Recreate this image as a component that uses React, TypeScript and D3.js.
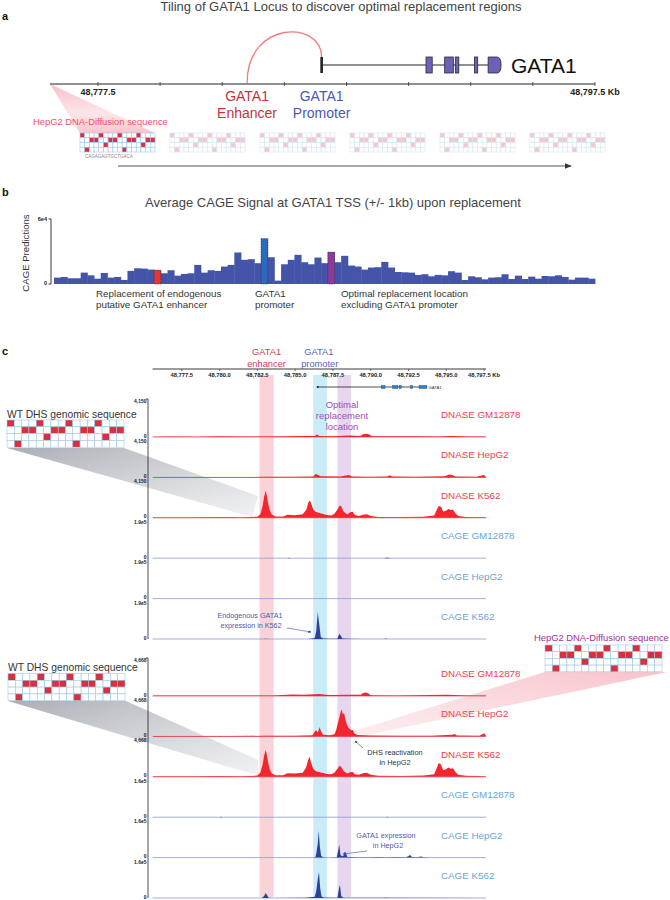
import React from "react";
import * as d3 from "d3";

const FONT = "'Liberation Sans', Arial, Helvetica, sans-serif";

// ---------------- Panel a / c genomic data ----------------
const locusTicks = [48777.5, 48780, 48782.5, 48785, 48787.5, 48790, 48792.5, 48795, 48797.5];
const locusTickLabelsA = ["48,777.5", "", "", "", "", "", "", "", "48,797.5 Kb"];
const locusTickLabelsC = ["48,777.5", "48,780.0", "48,782.5", "48,785.0", "48,787.5", "48,790.0", "48,792.5", "48,795.0", "48,797.5 Kb"];
const locusStart = 48775.57;
const locusEndA = 48797.5;
const locusEndC = 48797.63;
const geneTSS = 48786.5;
const exonStarts = [48790.7, 48791.45, 48791.88, 48792.65, 48793.2];
const exonEnds = [48790.95, 48791.8, 48792.02, 48792.78, 48793.72];
const enhancerKb = 48783.5;
const tileIndex = [0, 1, 2, 3, 4, 5];
const seqWT = "ATCCAGCCATCCAGCC";
const seqDiffusion = "ATCCAGCCATCCAGCC";
const tileSeqText = "CAGAGAGTGCTGACA";

// ---------------- Panel b data (CAGE predictions, x1e4) ----------------
const cageAfterReplacement = [
  0.59, 0.65, 0.53, 0.53, 1.05, 0.8, 0.49, 1.02, 0.59, 0.65,
  0.37, 1.21, 1.45, 1.42, 1.33, 1.27, 0.99, 1.27, 0.77, 0.93,
  0.99, 1.76, 1.05, 1.27, 1.21, 1.61, 1.76, 2.91, 2.23, 2.29,
  1.92, 4.18, 2.47, 0.31, 1.82, 2.23, 2.69, 2.01, 1.82, 2.44,
  1.92, 2.94, 2.01, 2.6, 1.7, 1.61, 1.33, 1.52, 1.55, 2.04,
  1.52, 1.11, 1.08, 1.05, 0.84, 0.9, 0.71, 0.84, 0.8, 1.18,
  1.05, 0.37, 0.71, 0.62, 0.43, 0.59, 0.62, 0.9, 0.46, 0.77,
  0.46, 0.68, 0.49, 0.74, 0.71, 0.8, 0.65, 0.4, 0.59, 0.59,
  0.49,
];
const highlightIdx = [15, 31, 41];
const highlightColors = ["#e8343c", "#2a6bc2", "#8e3a9c"];
const cageMax = 6; // 6e4

// ---------------- Panel c regions ----------------
const regionStarts = [48782.64, 48786.2, 48787.8];
const regionEnds = [48783.58, 48787.1, 48788.7];
const regionColors = ["#f9d3d7", "#c9ecf8", "#e6d6ee"];

// ---------------- Panel c tracks: WT ----------------
const wtDnaseGM12878 = [[48775.6,40],[48777.0,60],[48778.5,40],[48780.0,70],[48781.5,50],[48783.0,60],[48784.5,90],[48785.5,110],[48786.3,120],[48786.45,260],[48786.6,110],[48787.5,90],[48788.6,160],[48789.3,120],[48789.5,300],[48789.7,360],[48789.9,280],[48790.1,90],[48791.5,70],[48793.0,90],[48794.5,60],[48795.3,110],[48796.5,60],[48797.6,50]];
const wtDnaseHepG2 = [[48775.6,40],[48778.0,50],[48780.5,40],[48783.0,60],[48785.0,70],[48786.2,110],[48786.35,380],[48786.5,300],[48786.7,120],[48788.0,90],[48788.55,250],[48788.75,90],[48790.0,70],[48791.1,110],[48791.25,230],[48791.45,90],[48793.0,60],[48794.9,120],[48795.2,330],[48795.4,260],[48795.6,100],[48797.0,60],[48797.5,260],[48797.63,40]];
const wtDnaseK562 = [[48775.6,50],[48777.0,70],[48778.5,50],[48780.0,80],[48781.5,70],[48782.5,120],[48782.7,400],[48782.85,1300],[48782.95,2300],[48783.05,2950],[48783.12,2500],[48783.2,1700],[48783.3,900],[48783.45,350],[48783.7,150],[48784.2,150],[48784.5,330],[48785.0,280],[48785.5,380],[48785.75,900],[48785.88,1700],[48785.98,1900],[48786.1,1400],[48786.2,900],[48786.35,650],[48786.55,550],[48786.8,450],[48787.1,300],[48787.4,250],[48787.6,450],[48787.8,900],[48787.95,1350],[48788.05,1250],[48788.2,700],[48788.45,350],[48788.65,600],[48788.8,650],[48788.95,300],[48789.2,200],[48789.5,320],[48789.75,380],[48790.0,200],[48790.5,100],[48792.0,80],[48793.5,120],[48794.2,250],[48794.35,800],[48794.5,1300],[48794.65,1200],[48794.8,700],[48794.95,750],[48795.15,950],[48795.3,850],[48795.45,900],[48795.6,500],[48795.8,200],[48796.3,100],[48797.63,60]];
const wtCageGM12878 = [[48775.6,300],[48784.5,300],[48784.6,2500],[48784.7,300],[48790.9,300],[48791.0,2500],[48791.15,2000],[48791.3,300],[48797.63,300]];
const wtCageHepG2 = [[48775.6,300],[48786.5,400],[48797.63,300]];
const wtCageK562 = [[48775.6,300],[48782.9,300],[48783.05,1800],[48783.2,300],[48785.8,600],[48786.1,2500],[48786.3,5000],[48786.4,40000],[48786.5,135000],[48786.6,70000],[48786.7,10000],[48786.85,3000],[48787.3,800],[48787.8,1200],[48787.92,25000],[48788.02,18000],[48788.12,2000],[48788.5,800],[48789.5,500],[48790.9,500],[48791.0,2500],[48791.1,500],[48797.63,300]];

// ---------------- Panel c tracks: after replacement ----------------
const repDnaseGM12878 = [[48775.6,50],[48777.5,60],[48779.5,50],[48781.5,70],[48783.5,60],[48784.8,180],[48785.5,150],[48786.3,200],[48786.6,250],[48787.2,120],[48788.5,150],[48789.35,150],[48789.5,380],[48789.7,420],[48789.85,300],[48790.0,100],[48791.5,70],[48793.0,100],[48795.0,150],[48796.5,70],[48797.63,60]];
const repDnaseHepG2 = [[48775.6,50],[48778.0,60],[48780.5,50],[48783.0,70],[48785.0,80],[48786.15,150],[48786.3,600],[48786.4,750],[48786.5,450],[48786.62,1150],[48786.72,600],[48786.85,200],[48787.3,150],[48787.6,250],[48787.72,800],[48787.82,1600],[48787.92,2300],[48788.0,2900],[48788.08,3350],[48788.16,2700],[48788.24,2900],[48788.32,2100],[48788.42,1500],[48788.52,1100],[48788.62,900],[48788.72,750],[48788.82,800],[48788.92,400],[48789.1,180],[48790.0,100],[48792.0,80],[48794.0,90],[48795.4,200],[48795.55,280],[48795.7,120],[48797.2,80],[48797.52,380],[48797.63,60]];
const repDnaseK562 = [[48775.6,60],[48777.0,80],[48778.5,60],[48780.0,90],[48781.5,80],[48782.5,150],[48782.7,500],[48782.85,1500],[48782.95,2600],[48783.05,3300],[48783.12,2800],[48783.2,1900],[48783.3,1000],[48783.45,400],[48783.7,180],[48784.2,200],[48784.5,450],[48785.0,400],[48785.5,500],[48785.72,1100],[48785.85,2000],[48785.95,2450],[48786.05,1800],[48786.2,1000],[48786.35,700],[48786.55,600],[48786.8,500],[48787.1,350],[48787.4,300],[48787.6,500],[48787.8,1000],[48787.95,1350],[48788.05,1200],[48788.2,700],[48788.45,400],[48788.65,550],[48788.8,600],[48788.95,300],[48789.2,250],[48789.5,450],[48789.75,500],[48790.0,250],[48790.5,120],[48792.0,100],[48793.5,150],[48794.2,300],[48794.35,1000],[48794.5,1700],[48794.65,1500],[48794.8,800],[48794.95,900],[48795.15,1150],[48795.3,1000],[48795.45,1050],[48795.6,600],[48795.8,250],[48796.3,120],[48797.63,70]];
const repCageGM12878 = [[48775.6,300],[48780.0,300],[48780.1,1500],[48780.2,300],[48791.0,300],[48791.1,1500],[48791.2,300],[48797.63,300]];
const repCageHepG2 = [[48775.6,200],[48786.2,300],[48786.35,3000],[48786.42,25000],[48786.5,60000],[48786.56,113000],[48786.64,45000],[48786.72,8000],[48786.85,1500],[48787.3,800],[48787.75,2000],[48787.85,30000],[48787.92,55000],[48788.0,12000],[48788.1,6000],[48788.2,8000],[48788.28,25000],[48788.36,20000],[48788.45,3000],[48788.7,2500],[48789.2,1500],[48790.0,1500],[48790.5,3000],[48791.0,1500],[48791.8,2500],[48792.3,1800],[48792.5,6000],[48792.6,12000],[48792.7,4000],[48793.0,1500],[48793.35,5000],[48793.5,1200],[48794.0,800],[48797.63,200]];
const repCageK562 = [[48775.6,200],[48782.8,300],[48782.95,8000],[48783.05,21000],[48783.15,12000],[48783.25,1500],[48783.5,300],[48785.7,1000],[48786.0,3500],[48786.3,5000],[48786.4,30000],[48786.5,80000],[48786.58,109000],[48786.66,40000],[48786.75,6000],[48786.9,2000],[48787.4,800],[48787.8,1500],[48787.9,40000],[48787.97,55000],[48788.05,8000],[48788.2,1500],[48788.6,800],[48790.9,600],[48791.0,2500],[48791.1,600],[48797.63,200]];

const trackNames = ["DNASE GM12878", "DNASE HepG2", "DNASE K562", "CAGE GM12878", "CAGE HepG2", "CAGE K562"];
const trackKinds = ["dnase", "dnase", "dnase", "cage", "cage", "cage"];
const wtMaxLabels = ["4,150", "4,150", "4,150", "1.9e5", "1.9e5", "1.9e5"];
const wtMaxValues = [4150, 4150, 4150, 190000, 190000, 190000];
const repMaxLabels = ["4,668", "4,668", "4,668", "1.6e5", "1.6e5", "1.6e5"];
const repMaxValues = [4668, 4668, 4668, 160000, 160000, 160000];
const wtTracks = [wtDnaseGM12878, wtDnaseHepG2, wtDnaseK562, wtCageGM12878, wtCageHepG2, wtCageK562];
const repTracks = [repDnaseGM12878, repDnaseHepG2, repDnaseK562, repCageGM12878, repCageHepG2, repCageK562];

// ---------------- layout ----------------
const xA = d3.scaleLinear().domain([locusStart, locusEndA]).range([50, 595]);
const xC = d3.scaleLinear().domain([locusStart, locusEndC]).range([152.6, 486]);
const xB = d3.scaleBand<number>().domain(d3.range(cageAfterReplacement.length)).range([54, 595]).padding(0);
const yB = d3.scaleLinear().domain([0, cageMax]).range([284, 219]);
const tileX = d3.scaleLinear().domain([0, 5]).range([80, 530]);
const TRACK_H = 38;
const TRACK_STEP = 40.4;
const block1Base = 437;
const block2Base = 696;

const RED = "#c6323e";
const BLUE = "#4a58b4";

function SeqGrid({ x, y, cw, ch, seq, faded }: any) {
  const bases = "ACGT";
  const cells: any[] = [];
  for (let r = 0; r < 4; r++) {
    for (let c = 0; c < seq.length; c++) {
      const on = seq[c] === bases[r];
      cells.push(
        <rect key={r + "-" + c} x={x + c * cw} y={y + r * ch} width={cw} height={ch}
          fill={on ? (faded ? "#f7c5cc" : "#d8303f") : "#ffffff"}
          stroke={faded ? "#d6e6f3" : "#9fc6e6"} strokeWidth={0.6} />
      );
    }
  }
  return <g>{cells}</g>;
}

function Track({ data, base, max, kind, name, maxLabel }: any) {
  const y = d3.scaleLinear().domain([0, max]).range([base, base - TRACK_H]);
  const area = d3.area<any>().x((d: any) => xC(d[0])).y0(base).y1((d: any) => y(d[1]));
  const isD = kind === "dnase";
  return (
    <g>
      <line x1={xC.range()[0]} x2={xC.range()[1]} y1={base} y2={base}
        stroke={isD ? "#f2545a" : "#8d9ad0"} strokeWidth={0.8} />
      <path d={area(data) || ""} fill={isD ? "#f2262e" : "#2f3f9f"} />
      <text x={441} y={base - 19} fontSize={9.8} fill={isD ? "#f2404a" : "#68a3db"}>{name}</text>
      <text x={146.5} y={base + 0.5} fontSize={5} fontWeight="bold" textAnchor="end" fill="#222">0</text>
      <text x={146.5} y={base - TRACK_H + 3.5} fontSize={5} fontWeight="bold" textAnchor="end" fill="#222">{maxLabel}</text>
    </g>
  );
}

function TrackBlock({ tracks, maxValues, maxLabels, base0 }: any) {
  const bases = tracks.map((_: any, i: number) => base0 + i * TRACK_STEP);
  const top = bases[0] - TRACK_H;
  const bottom = bases[bases.length - 1];
  return (
    <g>
      <line x1={148} x2={148} y1={top} y2={bottom} stroke="#222" strokeWidth={0.8} />
      <line x1={146} x2={148} y1={top} y2={top} stroke="#222" strokeWidth={0.8} />
      {tracks.map((t: any, i: number) => (
        <Track key={i} data={t} base={bases[i]} max={maxValues[i]} kind={trackKinds[i]}
          name={trackNames[i]} maxLabel={maxLabels[i]} />
      ))}
    </g>
  );
}

export default function App() {
  const tssA = xA(geneTSS);
  const enhA = xA(enhancerKb);
  const lastExon = exonStarts.length - 1;
  return (
    <svg width={670} height={900} viewBox="0 0 670 900" fontFamily={FONT}
      style={{ position: "absolute", left: 0, top: 0, display: "block", background: "#fff" }}>
      <defs>
        <linearGradient id="pinkTri" x1="0" y1="0" x2="0" y2="1">
          <stop offset="0" stopColor="#f28a9a" stopOpacity={0.55} />
          <stop offset="0.6" stopColor="#f7b3bd" stopOpacity={0.35} />
          <stop offset="1" stopColor="#f28a9a" stopOpacity={0.5} />
        </linearGradient>
        <linearGradient id="greyWedge" x1="0" y1="0" x2="1" y2="1">
          <stop offset="0" stopColor="#8e939c" stopOpacity={0.75} />
          <stop offset="1" stopColor="#e6e7ec" stopOpacity={0.55} />
        </linearGradient>
        <linearGradient id="pinkWedge" x1="1" y1="0" x2="0" y2="1">
          <stop offset="0" stopColor="#f39aa8" stopOpacity={0.6} />
          <stop offset="1" stopColor="#fbd9de" stopOpacity={0.45} />
        </linearGradient>
        <marker id="arrGrey" viewBox="0 0 10 10" refX="9" refY="5" markerWidth="5" markerHeight="5" orient="auto">
          <path d="M0,0 L10,5 L0,10 Z" fill="#444" />
        </marker>
        <marker id="arrBlue" viewBox="0 0 10 10" refX="9" refY="5" markerWidth="5" markerHeight="5" orient="auto">
          <path d="M0,0 L10,5 L0,10 Z" fill="#3e4ea8" />
        </marker>
        <marker id="arrDark" viewBox="0 0 10 10" refX="9" refY="5" markerWidth="6" markerHeight="6" orient="auto">
          <path d="M0,1 L10,5 L0,9 Z" fill="#333" />
        </marker>
      </defs>
      <rect x={0} y={0} width={670} height={900} fill="#fff" />

      {/* ================= Panel a ================= */}
      <text x={2} y={20} fontSize={11} fontWeight="bold" fill="#111">a</text>
      <text x={341} y={11} fontSize={13} textAnchor="middle" fill="#444">Tiling of GATA1 Locus to discover optimal replacement regions</text>

      <path d={`M${xA.range()[0]},84 L${tileX(0)},133 L${tileX(0) + 75},133 Z`} fill="url(#pinkTri)" />

      <path d={`M${enhA},83 C${enhA},20 ${tssA},20 ${tssA},57`} fill="none" stroke="#f27c7c" strokeWidth={1.3} />

      <line x1={tssA} x2={xA(exonEnds[lastExon])} y1={65} y2={65} stroke="#222" strokeWidth={1} />
      <rect x={tssA - 1.3} y={57} width={2.6} height={16} fill="#222" />
      {exonStarts.map((s, i) => {
        const x0 = xA(s), x1 = xA(exonEnds[i]);
        if (i === lastExon) {
          return <path key={i} d={`M${x0},57 H${x1 - 4} Q${x1},57 ${x1},65 Q${x1},73 ${x1 - 4},73 H${x0} Z`}
            fill="#6a62b6" stroke="#2a2a3a" strokeWidth={0.8} />;
        }
        return <rect key={i} x={x0} y={57} width={x1 - x0} height={16} fill="#6a62b6" stroke="#2a2a3a" strokeWidth={0.8} />;
      })}
      <text x={511} y={73} fontSize={21} fill="#111">GATA1</text>

      <line x1={xA.range()[0]} x2={xA.range()[1]} y1={84} y2={84} stroke="#222" strokeWidth={1} />
      {locusTicks.map((t, i) => (
        <g key={i}>
          <line x1={xA(t)} x2={xA(t)} y1={82} y2={86} stroke="#222" strokeWidth={0.7} />
          {locusTickLabelsA[i] && (
            <text x={xA(t)} y={95} fontSize={9} fontWeight="bold" textAnchor="middle" fill="#222">{locusTickLabelsA[i]}</text>
          )}
        </g>
      ))}
      <text x={enhA} y={101} fontSize={14} textAnchor="middle" fill={RED}>GATA1</text>
      <text x={enhA} y={118} fontSize={14} textAnchor="middle" fill={RED}>Enhancer</text>
      <text x={tssA} y={101} fontSize={14} textAnchor="middle" fill={BLUE}>GATA1</text>
      <text x={tssA} y={118} fontSize={14} textAnchor="middle" fill={BLUE}>Promoter</text>

      <text x={33} y={125} fontSize={9.4} fill="#f0506c">HepG2 DNA-Diffusion sequence</text>
      {tileIndex.map((t) => (
        <SeqGrid key={t} x={tileX(t)} y={133} cw={75 / 16} ch={4.75} seq={seqDiffusion} faded={t > 0} />
      ))}
      <text x={85} y={158} fontSize={4.5} fill="#888">{tileSeqText}</text>
      <line x1={118} x2={571} y1={166} y2={166} stroke="#555" strokeWidth={1.2} markerEnd="url(#arrDark)" />

      {/* ================= Panel b ================= */}
      <text x={2} y={196} fontSize={11} fontWeight="bold" fill="#111">b</text>
      <text x={333} y={207} fontSize={13} textAnchor="middle" fill="#444">Average CAGE Signal at GATA1 TSS (+/- 1kb) upon replacement</text>
      <text transform="translate(29,253) rotate(-90)" fontSize={9.6} textAnchor="middle" fill="#333">CAGE Predictions</text>
      <line x1={51} x2={51} y1={yB(cageMax)} y2={yB(0)} stroke="#222" strokeWidth={0.9} />
      <line x1={48.5} x2={51} y1={yB(cageMax)} y2={yB(cageMax)} stroke="#222" strokeWidth={0.9} />
      <line x1={48.5} x2={51} y1={yB(0)} y2={yB(0)} stroke="#222" strokeWidth={0.9} />
      <text x={47} y={yB(cageMax) + 2} fontSize={5.5} fontWeight="bold" textAnchor="end" fill="#222">6e4</text>
      <text x={47} y={yB(0) + 1} fontSize={5.5} fontWeight="bold" textAnchor="end" fill="#222">0</text>
      {cageAfterReplacement.map((v, i) => (
        <rect key={i} x={xB(i)} y={yB(v)} width={(xB.bandwidth()) + 0.4} height={yB(0) - yB(v)} fill="#4454a8" />
      ))}
      {highlightIdx.map((idx, k) => (
        <rect key={"h" + k} x={xB(idx)} y={yB(cageAfterReplacement[idx])} width={xB.bandwidth()}
          height={yB(0) - yB(cageAfterReplacement[idx])} fill={highlightColors[k]}
          stroke="#333" strokeWidth={0.6} strokeDasharray="1.5,1" />
      ))}
      <text x={96} y={297} fontSize={9.8} fill="#333">Replacement of endogenous</text>
      <text x={96} y={308} fontSize={9.8} fill="#333">putative GATA1 enhancer</text>
      <text x={255} y={297} fontSize={9.8} fill="#333">GATA1</text>
      <text x={255} y={308} fontSize={9.8} fill="#333">promoter</text>
      <text x={341} y={297} fontSize={9.8} fill="#333">Optimal replacement location</text>
      <text x={341} y={308} fontSize={9.8} fill="#333">excluding GATA1 promoter</text>

      {/* ================= Panel c ================= */}
      <text x={2} y={355} fontSize={11} fontWeight="bold" fill="#111">c</text>
      {regionStarts.map((s, i) => (
        <rect key={i} x={xC(s)} y={375} width={xC(regionEnds[i]) - xC(s)} height={522} fill={regionColors[i]} />
      ))}
      <text x={xC((regionStarts[0] + regionEnds[0]) / 2)} y={355} fontSize={9.3} textAnchor="middle" fill="#d04050">GATA1</text>
      <text x={xC((regionStarts[0] + regionEnds[0]) / 2)} y={366.5} fontSize={9.3} textAnchor="middle" fill="#d04050">enhancer</text>
      <text x={xC(geneTSS) + 1} y={355} fontSize={9.3} textAnchor="middle" fill="#5566c0">GATA1</text>
      <text x={xC(geneTSS) + 2} y={366.5} fontSize={9.3} textAnchor="middle" fill="#5566c0">promoter</text>

      <line x1={xC.range()[0]} x2={xC.range()[1]} y1={369} y2={369} stroke="#222" strokeWidth={0.9} />
      {locusTicks.map((t, i) => (
        <g key={i}>
          <line x1={xC(t)} x2={xC(t)} y1={369} y2={371} stroke="#222" strokeWidth={0.6} />
          <text x={xC(t)} y={376.5} fontSize={5.8} fontWeight="bold" textAnchor="middle" fill="#222">{locusTickLabelsC[i]}</text>
        </g>
      ))}

      <line x1={xC(geneTSS)} x2={xC(exonEnds[lastExon])} y1={387} y2={387} stroke="#222" strokeWidth={0.8} />
      <circle cx={xC(geneTSS)} cy={387} r={1.1} fill="#222" />
      {exonStarts.map((s, i) => (
        <rect key={i} x={xC(s)} y={385.5} width={Math.max(1.2, xC(exonEnds[i]) - xC(s))} height={3}
          fill="#2f7fcf" stroke="#1d3d6a" strokeWidth={0.4} />
      ))}
      <text x={xC(exonEnds[lastExon]) + 1.5} y={388.5} fontSize={4.2} fill="#333">GATA1</text>

      <text x={342} y={408} fontSize={9.5} textAnchor="middle" fill="#a04db8">Optimal</text>
      <text x={342} y={419} fontSize={9.5} textAnchor="middle" fill="#a04db8">replacement</text>
      <text x={342} y={430} fontSize={9.5} textAnchor="middle" fill="#a04db8">location</text>

      <path d="M7,448 L124,448 L258,496 L252,517 Z" fill="url(#greyWedge)" />
      <path d="M8,701 L126,701 L258,760 L259,776 Z" fill="url(#greyWedge)" />
      <path d="M545,672 L667,672 L358,737 L354,731 Z" fill="url(#pinkWedge)" />

      <TrackBlock tracks={wtTracks} maxValues={wtMaxValues} maxLabels={wtMaxLabels} base0={block1Base} />
      <TrackBlock tracks={repTracks} maxValues={repMaxValues} maxLabels={repMaxLabels} base0={block2Base} />

      <text x={7} y={418} fontSize={10.3} fill="#333">WT DHS genomic sequence</text>
      <SeqGrid x={7} y={420} cw={117 / 16} ch={6.8} seq={seqWT} faded={false} />
      <text x={8} y={671} fontSize={10.3} fill="#333">WT DHS genomic sequence</text>
      <SeqGrid x={8} y={673.5} cw={117 / 16} ch={6.8} seq={seqWT} faded={false} />
      <text x={534} y={641} fontSize={9.4} fill="#a0309a">HepG2 DNA-Diffusion sequence</text>
      <SeqGrid x={545} y={645} cw={117 / 16} ch={6.7} seq={seqDiffusion} faded={false} />

      <text x={250} y={618} fontSize={7.2} textAnchor="middle" fill="#4a5ab0">Endogenous GATA1</text>
      <text x={251} y={628} fontSize={7.2} textAnchor="middle" fill="#4a5ab0">expression in K562</text>
      <line x1={287} y1={628} x2={311} y2={632} stroke="#3e4ea8" strokeWidth={0.6} markerEnd="url(#arrBlue)" />

      <text x={395} y={755} fontSize={7.4} textAnchor="middle" fill="#333">DHS reactivation</text>
      <text x={395} y={765} fontSize={7.4} textAnchor="middle" fill="#333">in HepG2</text>
      <line x1={363} y1={748} x2={355} y2={741} stroke="#444" strokeWidth={0.6} markerEnd="url(#arrGrey)" />

      <text x={386} y={838} fontSize={7.2} textAnchor="middle" fill="#4a5ab0">GATA1 expression</text>
      <text x={388} y={847.5} fontSize={7.2} textAnchor="middle" fill="#4a5ab0">in HepG2</text>
      <line x1={367} y1={851} x2={343} y2={854} stroke="#3e4ea8" strokeWidth={0.6} markerEnd="url(#arrBlue)" />
    </svg>
  );
}
